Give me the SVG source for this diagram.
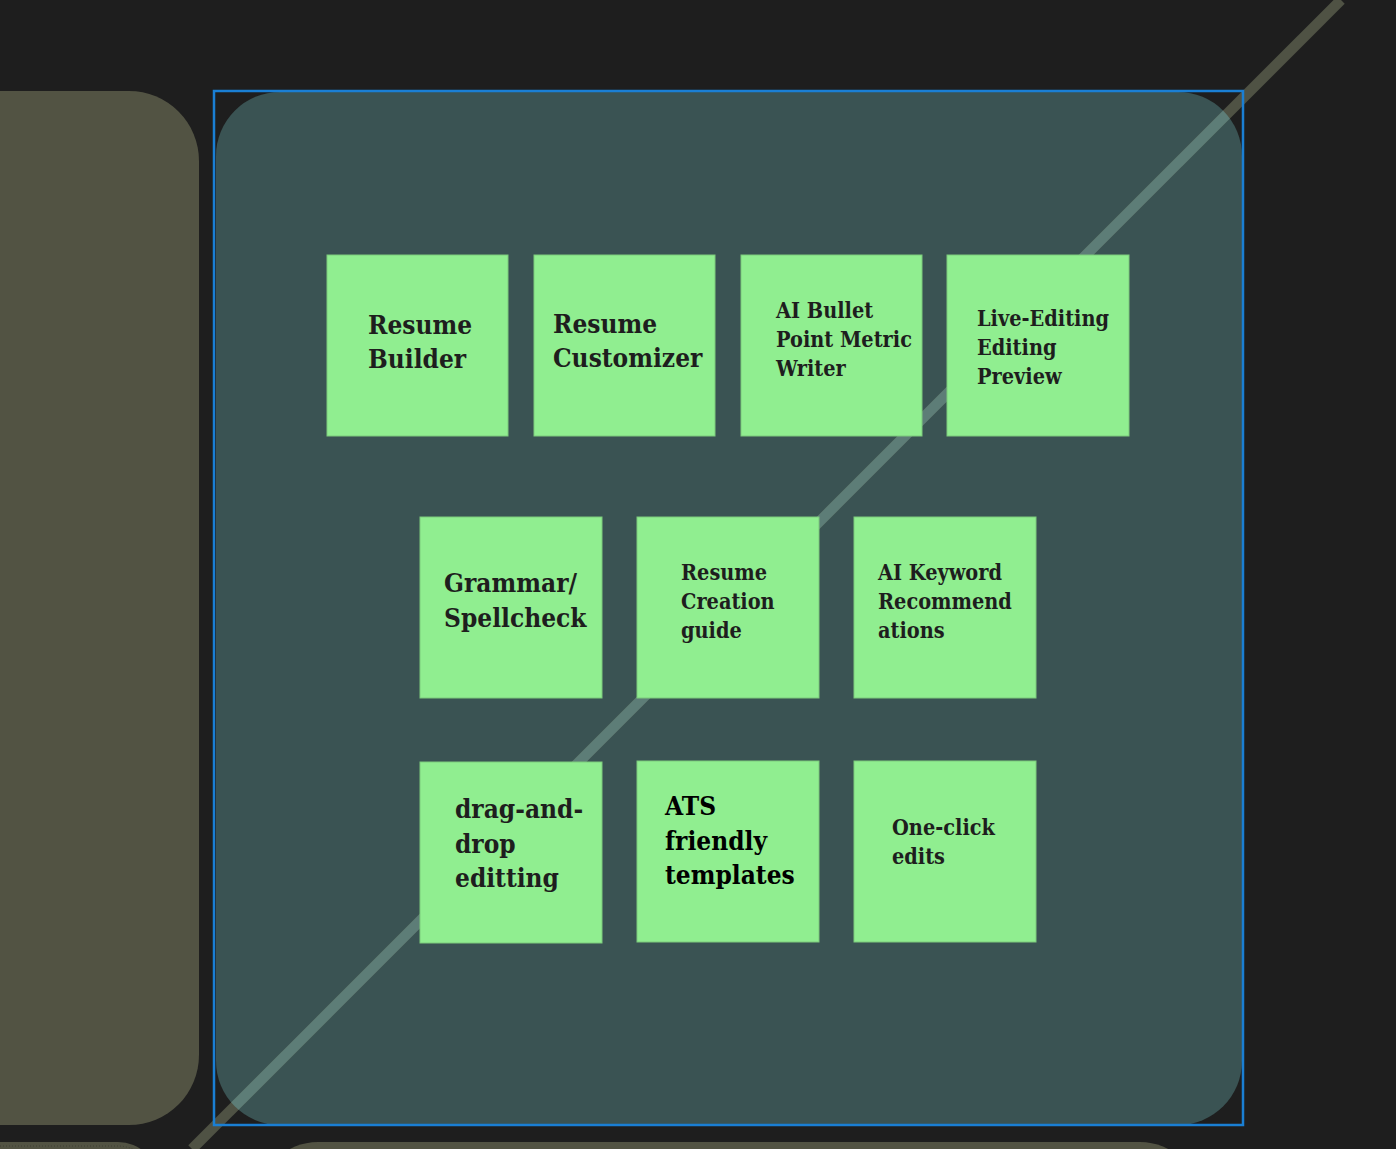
<svg xmlns="http://www.w3.org/2000/svg" width="1396" height="1149" viewBox="0 0 1396 1149">
<style>
.panel{fill:#525343}
.main{fill:#3a5353}
.note rect{fill:#90ee90;stroke:#7ccb7c;stroke-width:1}
.note text{font-family:"DejaVu Serif Condensed","DejaVu Serif","Liberation Serif",serif;font-weight:bold;fill:#1e1e1e;font-stretch:condensed}
.big{font-size:26px}
.small{font-size:21.5px}
</style>
<defs>
<clipPath id="mainClip"><rect x="216" y="92" width="1026" height="1033" rx="64"/></clipPath>
</defs>
<rect width="1396" height="1149" fill="#1e1e1e"/>
<g id="left-panel"><rect class="panel" x="-100" y="91" width="299" height="1034" rx="70"/></g>
<g id="bottom-left-panel"><rect class="panel" x="-100" y="1142" width="258" height="200" rx="40"/><rect x="-96" y="1146" width="250" height="200" rx="36" fill="none" stroke="#3f4035" stroke-width="1" stroke-dasharray="1 2"/></g>
<g id="bottom-panel"><rect class="panel" x="258" y="1142" width="942" height="200" rx="60"/></g>
<g id="main-panel"><rect class="main" x="216" y="92" width="1026" height="1033" rx="64"/></g>
<g id="connectors">
<line x1="1341" y1="0" x2="192" y2="1149" stroke="#4f5244" stroke-width="10.5"/>
<line x1="1341" y1="0" x2="192" y2="1149" stroke="#5d7d77" stroke-width="10.5" clip-path="url(#mainClip)"/>
</g>
<g id="selection"><rect x="214" y="91" width="1029" height="1034" fill="none" stroke="#1a7fd4" stroke-width="2.5"/></g>
<g id="note-resume-builder" class="note"><rect x="327" y="255" width="181" height="181"/><text class="big"><tspan x="368" y="334">Resume</tspan><tspan x="368" y="368">Builder</tspan></text></g>
<g id="note-resume-customizer" class="note"><rect x="534" y="255" width="181" height="181"/><text class="big"><tspan x="553" y="333">Resume</tspan><tspan x="553" y="367">Customizer</tspan></text></g>
<g id="note-ai-bullet" class="note"><rect x="741" y="255" width="181" height="181"/><text class="small"><tspan x="776" y="318">AI Bullet</tspan><tspan x="776" y="347">Point Metric</tspan><tspan x="776" y="376">Writer</tspan></text></g>
<g id="note-live-editing" class="note"><rect x="947" y="255" width="182" height="181"/><text class="small"><tspan x="977" y="326">Live-Editing</tspan><tspan x="977" y="355">Editing</tspan><tspan x="977" y="384">Preview</tspan></text></g>
<g id="note-grammar" class="note"><rect x="420" y="517" width="182" height="181"/><text class="big"><tspan x="444" y="592">Grammar/</tspan><tspan x="444" y="627">Spellcheck</tspan></text></g>
<g id="note-creation-guide" class="note"><rect x="637" y="517" width="182" height="181"/><text class="small"><tspan x="681" y="580">Resume</tspan><tspan x="681" y="609">Creation</tspan><tspan x="681" y="638">guide</tspan></text></g>
<g id="note-keyword" class="note"><rect x="854" y="517" width="182" height="181"/><text class="small"><tspan x="878" y="580">AI Keyword</tspan><tspan x="878" y="609">Recommend</tspan><tspan x="878" y="638">ations</tspan></text></g>
<g id="note-drag-drop" class="note"><rect x="420" y="762" width="182" height="181"/><text class="big"><tspan x="455" y="818">drag-and-</tspan><tspan x="455" y="853">drop</tspan><tspan x="455" y="887">editting</tspan></text></g>
<g id="note-ats" class="note"><rect x="637" y="761" width="182" height="181"/><text class="big" style="fill:#000"><tspan x="665" y="815">ATS</tspan><tspan x="665" y="850">friendly</tspan><tspan x="665" y="884">templates</tspan></text></g>
<g id="note-one-click" class="note"><rect x="854" y="761" width="182" height="181"/><text class="small"><tspan x="892" y="835">One-click</tspan><tspan x="892" y="864">edits</tspan></text></g>
</svg>
